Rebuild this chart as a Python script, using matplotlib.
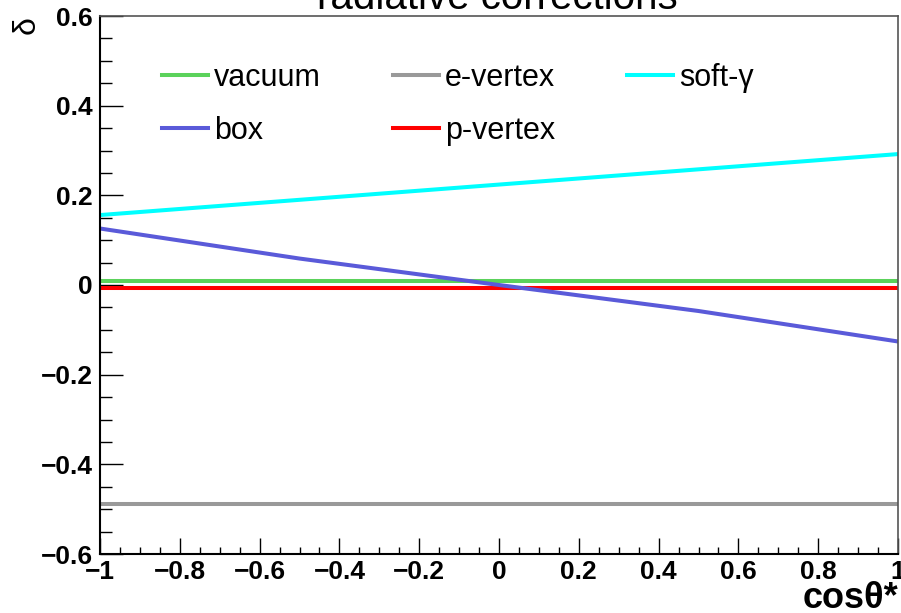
import matplotlib
matplotlib.use('Agg')
import matplotlib.pyplot as plt
from matplotlib.ticker import MultipleLocator, FuncFormatter

# values
cos_x = [-1.0, 1.0]
vacuum = [0.009, 0.009]
e_vertex = [-0.488, -0.488]
p_vertex = [-0.006, -0.006]
box_x = [-1.0, -0.5, 0.0, 0.5, 1.0]
box = [0.126, 0.059, 0.0, -0.058, -0.126]
soft_x = [-1.0, 0.0, 1.0]
soft = [0.156, 0.224, 0.292]

plt.rcParams['font.family'] = ['Liberation Sans', 'DejaVu Sans']

W, H = 901, 613
fig = plt.figure(figsize=(W / 100, H / 100), dpi=100)
ax = fig.add_axes([100 / W, 59 / H, 798 / W, 538 / H])

lw = 2.9
l_vac, = ax.plot(cos_x, vacuum, color='#5bd25b', lw=lw, label='vacuum')
l_ev, = ax.plot(cos_x, e_vertex, color='#999999', lw=lw, label='e-vertex')
l_pv, = ax.plot(cos_x, p_vertex, color='#ff0000', lw=lw, label='p-vertex')
l_soft, = ax.plot(soft_x, soft, color='#00ffff', lw=lw, label='soft-\u03b3')
l_box, = ax.plot(box_x, box, color='#5a5ad9', lw=lw, label='box')

ax.set_xlim(-1, 1)
ax.set_ylim(-0.6, 0.6)

ax.xaxis.set_major_locator(MultipleLocator(0.2))
ax.xaxis.set_minor_locator(MultipleLocator(0.05))
ax.yaxis.set_major_locator(MultipleLocator(0.2))
ax.yaxis.set_minor_locator(MultipleLocator(0.05))
fmt = FuncFormatter(lambda v, p: ('%g' % round(v, 3)).replace('-', '\u2212'))
ax.xaxis.set_major_formatter(fmt)
ax.yaxis.set_major_formatter(fmt)

ax.tick_params(axis='y', which='major', direction='in', length=16.6, width=1.0, pad=5, labelsize=19)
ax.tick_params(axis='y', which='minor', direction='in', length=8.3, width=1.0)
ax.tick_params(axis='x', which='major', direction='in', length=11.5, width=1.0, pad=4, labelsize=19)
ax.tick_params(axis='x', which='minor', direction='in', length=5.4, width=1.0)
for lab in ax.get_xticklabels() + ax.get_yticklabels():
    lab.set_fontweight('bold')

ax.spines['left'].set_linewidth(1.5)
ax.spines['bottom'].set_linewidth(1.5)
ax.spines['top'].set_color('#555555')
ax.spines['right'].set_color('#555555')
ax.spines['top'].set_linewidth(1.2)
ax.spines['right'].set_linewidth(1.2)

ax.legend(handles=[l_vac, l_box, l_ev, l_pv, l_soft], ncol=3, frameon=False,
          fontsize=22, handlelength=1.5, handletextpad=0.2, columnspacing=2.35,
          labelspacing=0.75, loc='upper left', bbox_to_anchor=(50 / 798, 0.935),
          borderaxespad=0)

fig.text(497 / W, 1 - 9 / H, 'radiative corrections', ha='center', va='baseline', fontsize=29)
fig.text(27 / W, 1 - 25 / H, '\u03b4', rotation=90, ha='center', va='center', fontsize=23)
fig.text(898 / W, 1 - 608 / H, 'cos\u03b8*', ha='right', va='baseline', fontsize=26, fontweight='bold')

fig.savefig('out.png', dpi=100)
